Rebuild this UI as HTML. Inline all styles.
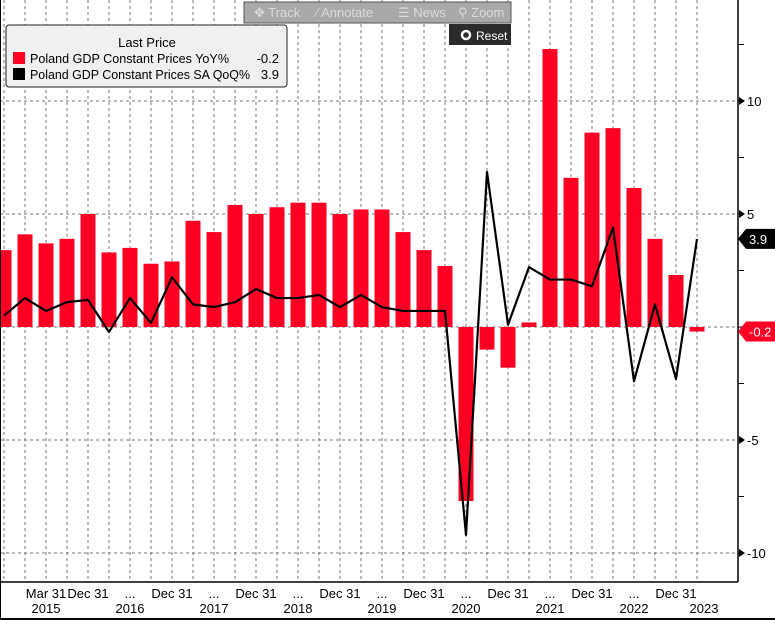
<!DOCTYPE html>
<html><head><meta charset="utf-8"><style>
body{margin:0;background:#fff;font-family:"Liberation Sans","DejaVu Sans",sans-serif}
svg{display:block}
</style></head><body>
<svg id="chart" width="775" height="620" viewBox="0 0 775 620">
<rect x="0" y="0" width="775" height="620" fill="#fff"/>
<g id="grid"></g><g id="bars"></g><g id="line"></g><g id="axis"></g>
<g>
<rect x="244" y="2" width="267" height="21" fill="#a9a9a9" stroke="#555"/>
<text x="254" y="17" font-size="13" fill="#dcdcdc">✥ Track</text>
<text x="316" y="17" font-size="13" fill="#dcdcdc">⁄ Annotate</text>
<text x="398" y="17" font-size="13" fill="#dcdcdc">☰ News</text>
<text x="458" y="17" font-size="13" fill="#dcdcdc">⚲ Zoom</text>
<rect x="449" y="24" width="62" height="21" fill="#2b2b2b"/>
<circle cx="466" cy="35" r="4" fill="none" stroke="#fff" stroke-width="2.5"/>
<text x="476" y="40" font-size="12" fill="#fff">Reset</text>
</g>
<g>
<rect x="6" y="25" width="281" height="62" rx="3" fill="#f0f0f0" stroke="#222"/>
<text x="147" y="47" font-size="13" text-anchor="middle" fill="#000">Last Price</text>
<rect x="13" y="52" width="12" height="12" fill="#ff0025"/>
<text x="30" y="63" font-size="13" fill="#000" textLength="199" lengthAdjust="spacingAndGlyphs">Poland GDP Constant Prices YoY%</text>
<text x="279" y="63" font-size="13" text-anchor="end" fill="#000">-0.2</text>
<rect x="13" y="68" width="12" height="12" fill="#000"/>
<text x="30" y="79" font-size="13" fill="#000" textLength="220" lengthAdjust="spacingAndGlyphs">Poland GDP Constant Prices SA QoQ%</text>
<text x="279" y="79" font-size="13" text-anchor="end" fill="#000">3.9</text>
</g>
</svg>
<script>
const yoy=[3.4,4.1,3.7,3.9,5.0,3.3,3.5,2.8,2.9,4.7,4.2,5.4,5.0,5.3,5.5,5.5,5.0,5.2,5.2,4.2,3.4,2.7,-7.7,-1.0,-1.8,0.2,12.3,6.6,8.6,8.8,6.15,3.9,2.3,-0.2];
const qoq=[0.5,1.28,0.71,1.1,1.2,-0.22,1.28,0.18,2.2,1.0,0.88,1.1,1.68,1.28,1.28,1.42,0.88,1.42,0.88,0.71,0.71,0.71,-9.2,6.86,0.1,2.65,2.1,2.1,1.8,4.4,-2.4,1.0,-2.3,3.9];
const yTicks=[10,5,0,-5,-10];
const yTickLabels=["10","5","","-5","-10"];
const xLabels=["","","Mar 31","","Dec 31","","...","","Dec 31","","...","","Dec 31","","...","","Dec 31","","...","","Dec 31","","...","","Dec 31","","...","","Dec 31","","...","","Dec 31",""];
const yearLabels=["","","2015","","","","2016","","","","2017","","","","2018","","","","2019","","","","2020","","","","2021","","","","2022","","","2023"];
const NS="http://www.w3.org/2000/svg";
function X(i){return 4+21*i;}
function Y(v){return 327-v*22.6;}
function mk(t,a,p){const e=document.createElementNS(NS,t);for(const k in a)e.setAttribute(k,a[k]);p.appendChild(e);return e;}
const grid=document.getElementById('grid'),bars=document.getElementById('bars'),line=document.getElementById('line'),axis=document.getElementById('axis');
for(let i=0;i<yoy.length;i++){
 const g=mk('line',{x1:X(i),x2:X(i),y1:0,y2:582,stroke:'#777','stroke-dasharray':'3,3','stroke-width':1},grid);
 
 
}
yTicks.forEach((t,k)=>{
 const g=mk('line',{x1:0,x2:738,y1:Y(t),y2:Y(t),stroke:'#777','stroke-dasharray':'3,3','stroke-width':1},grid);
 
 
 if(yTickLabels[k]){
  mk('path',{d:`M739 ${Y(t)-4}L745 ${Y(t)}L739 ${Y(t)+4}Z`,fill:'#000'},axis);
  const tx=mk('text',{x:747,y:Y(t)+5,'font-size':13,fill:'#000'},axis);tx.textContent=yTickLabels[k];
  
  
 }
});
for(let v=-10;v<=12.5;v+=2.5){mk('line',{x1:738,x2:744,y1:Y(v),y2:Y(v),stroke:'#000'},axis);}
yoy.forEach((v,i)=>{
 const r=mk('rect',{x:X(i)-7.5,width:15,y:Math.min(Y(v),Y(0)),height:Math.abs(Y(v)-Y(0)),fill:'#ff0025'},bars);
 
 
});
const pl=mk('polyline',{points:qoq.map((v,i)=>X(i)+','+Y(v)).join(' '),fill:'none',stroke:'#000','stroke-width':2.2,'stroke-linejoin':'round'},line);


mk('line',{x1:738,x2:738,y1:0,y2:582,stroke:'#000','stroke-width':1.5},axis);
mk('line',{x1:0,x2:738,y1:582,y2:582,stroke:'#000','stroke-width':1.5},axis);
mk('line',{x1:0,x2:0,y1:0,y2:620,stroke:'#000','stroke-width':2},axis);
mk('line',{x1:0,x2:775,y1:619,y2:619,stroke:'#000','stroke-width':2},axis);
for(let i=0;i<yoy.length;i++){
 if(xLabels[i]){const t=mk('text',{x:X(i),y:598,'font-size':13,'text-anchor':'middle',fill:'#000'},axis);t.textContent=xLabels[i];
  
  }
 if(yearLabels[i]){const t=mk('text',{x:X(i)+(i==33?7:0),y:613,'font-size':13,'text-anchor':'middle',fill:'#000'},axis);t.textContent=yearLabels[i];
  
  }
}
function tag(v,bg,fg,name){
 const y=Y(v);
 const p=mk('path',{d:`M738 ${y}L746 ${y-10}L775 ${y-10}L775 ${y+10}L746 ${y+10}Z`,fill:bg},axis);
 
 
 const t=mk('text',{x:749,y:y+5,'font-size':13,fill:fg},axis);t.textContent=v.toFixed(1);
}
tag(qoq[qoq.length-1],'#000','#fff','last-value-qoq');
tag(yoy[yoy.length-1],'#ff0025','#fff','last-value-yoy');
</script>
</body></html>
